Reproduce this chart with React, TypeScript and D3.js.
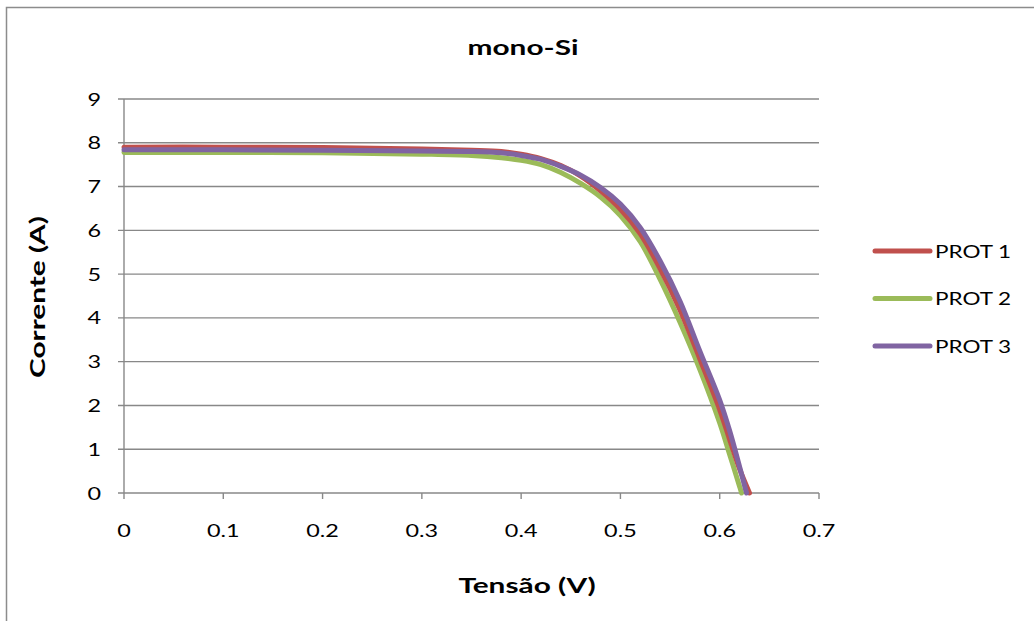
import React from "react";
import * as d3 from "d3";

const voltage = [0, 0.1, 0.2, 0.3, 0.35, 0.38, 0.4, 0.42, 0.44, 0.46, 0.48, 0.5, 0.52, 0.54, 0.56, 0.58, 0.6, 0.61, 0.62];
const prot1 = [7.9, 7.9, 7.89, 7.86, 7.83, 7.8, 7.74, 7.64, 7.48, 7.24, 6.9, 6.48, 5.92, 5.12, 4.18, 3.06, 1.9, 1.22, 0.55];
const prot2 = [7.78, 7.78, 7.77, 7.74, 7.71, 7.66, 7.6, 7.5, 7.32, 7.07, 6.76, 6.34, 5.74, 4.88, 3.9, 2.82, 1.6, 0.88, 0.15];
const prot3 = [7.84, 7.84, 7.83, 7.81, 7.8, 7.77, 7.71, 7.62, 7.46, 7.26, 6.98, 6.6, 6.06, 5.3, 4.38, 3.24, 2.12, 1.42, 0.6];
const vocs = [0.63, 0.622, 0.627];

const seriesNames = ["PROT 1", "PROT 2", "PROT 3"];
const seriesColors = ["#C0504D", "#9BBB59", "#8064A2"];
const xTicks = [0, 0.1, 0.2, 0.3, 0.4, 0.5, 0.6, 0.7];
const yTicks = [0, 1, 2, 3, 4, 5, 6, 7, 8, 9];

const title = "mono-Si";
const xTitle = "Tensão (V)";
const yTitle = "Corrente (A)";

function Txt(props: { x: number; y: number; sx: number; size: number; anchor?: string; bold?: boolean; rot?: number; children: React.ReactNode }) {
  const { x, y, sx, size, anchor = "start", bold = false, rot = 0, children } = props;
  return (
    <text
      transform={`translate(${x},${y}) rotate(${rot}) scale(${sx},1)`}
      textAnchor={anchor}
      fontSize={size}
      fontWeight={bold ? "bold" : "normal"}
      fill="#000"
    >
      {children}
    </text>
  );
}

export default function App() {
  const W = 1034, H = 621;
  const left = 124, right = 819, top = 99, bottom = 493;
  const x = d3.scaleLinear().domain([0, 0.7]).range([left, right]);
  const y = d3.scaleLinear().domain([0, 9]).range([bottom, top]);
  const font = "Lato, 'Open Sans', sans-serif";

  const allSeries = [prot1, prot2, prot3].map((vals, i) => {
    const pts: [number, number][] = voltage.map((v, j) => [v, vals[j]]);
    pts.push([vocs[i], 0]);
    return pts;
  });
  const line = d3
    .line<[number, number]>()
    .x((d) => x(d[0]))
    .y((d) => y(d[1]))
    .curve(d3.curveCatmullRom.alpha(0.5));

  const drawOrder = [1, 0, 2];

  return (
    <svg width={W} height={H} style={{ position: "absolute", left: 0, top: 0 }} fontFamily={font}>
      <rect x={0} y={0} width={W} height={H} fill="#fff" />
      <path d={`M6.5,${H} V7.5 H${W}`} fill="none" stroke="#8c8c8c" strokeWidth={1.5} />
      {yTicks.map((t) => (
        <line key={"g" + t} x1={left - 6} x2={right} y1={y(t)} y2={y(t)} stroke="#888" strokeWidth={1.4} />
      ))}
      <line x1={left} x2={left} y1={top} y2={bottom} stroke="#888" strokeWidth={1.4} />
      {xTicks.map((t) => (
        <line key={"xt" + t} x1={x(t)} x2={x(t)} y1={bottom} y2={bottom + 6} stroke="#888" strokeWidth={1.4} />
      ))}
      {yTicks.map((t) => (
        <Txt key={"yl" + t} x={101} y={y(t) + 6.5} sx={1.3} size={18} anchor="end">
          {t}
        </Txt>
      ))}
      {xTicks.map((t) => (
        <Txt key={"xl" + t} x={x(t)} y={537} sx={1.3} size={18} anchor="middle">
          {t}
        </Txt>
      ))}
      {drawOrder.map((i) => (
        <path key={"s" + i} d={line(allSeries[i]) || ""} fill="none" stroke={seriesColors[i]} strokeWidth={5} strokeLinejoin="round" strokeLinecap="round" />
      ))}
      <Txt x={523} y={55} sx={1.42} size={21} anchor="middle" bold>{title}</Txt>
      <Txt x={527} y={593} sx={1.42} size={21} anchor="middle" bold>{xTitle}</Txt>
      <Txt x={45} y={297} sx={1.42} size={21} anchor="middle" bold rot={-90}>{yTitle}</Txt>
      {seriesNames.map((n, i) => (
        <g key={"lg" + i} transform={`translate(0,${251 + i * 47.5})`}>
          <line x1={875} x2={930} y1={0} y2={0} stroke={seriesColors[i]} strokeWidth={5} strokeLinecap="round" />
          <Txt x={935} y={6.5} sx={1.25} size={18}>{n}</Txt>
        </g>
      ))}
    </svg>
  );
}
